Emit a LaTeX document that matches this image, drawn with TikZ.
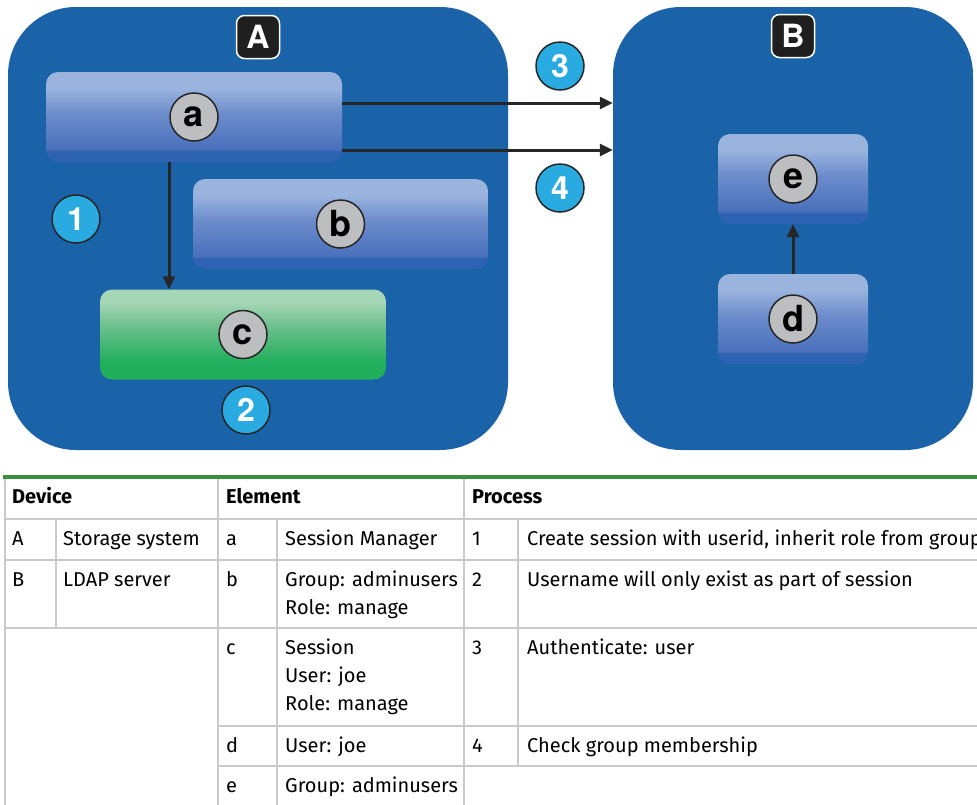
\documentclass[tikz,border=0pt]{standalone}
\usepackage{fontspec}
\setmainfont{Fira Sans}
\newfontfamily\heros{TeX Gyre Heros}
\usetikzlibrary{positioning,arrows.meta}

\definecolor{devblue}{RGB}{27,99,168}
\definecolor{elemtop}{RGB}{154,180,222}
\definecolor{elemmid}{RGB}{108,140,203}
\definecolor{elemlow}{RGB}{74,112,188}
\definecolor{elemband}{RGB}{46,98,178}
\definecolor{sesstop}{RGB}{165,214,181}
\definecolor{sessmid}{RGB}{110,192,142}
\definecolor{sessbot}{RGB}{34,175,92}
\definecolor{badgegray}{RGB}{189,190,192}
\definecolor{stepblue}{RGB}{41,171,226}
\definecolor{gridgray}{RGB}{201,202,203}
\definecolor{rulegreen}{RGB}{58,143,63}

\pgfdeclareverticalshading{elemshade}{100bp}{color(0bp)=(elemband); color(31bp)=(elemband); color(32bp)=(elemlow); color(52bp)=(elemmid); color(66bp)=(elemtop); color(100bp)=(elemtop)}
\pgfdeclareverticalshading{sessshade}{100bp}{color(0bp)=(sessbot); color(35bp)=(sessbot); color(55bp)=(sessmid); color(68bp)=(sesstop); color(100bp)=(sesstop)}

\tikzset{
  device/.style={fill=devblue, rounded corners=68pt, minimum height=443pt, inner sep=0},
  elem/.style={shading=elemshade, rounded corners=12pt, minimum height=90pt, inner sep=0},
  sess/.style={elem, shading=sessshade},
  badge/.style={circle, draw=black!85, line width=1.5pt, fill=badgegray, minimum size=48pt, inner sep=0, font=\heros\bfseries\fontsize{36}{36}\selectfont},
  stepno/.style={badge, fill=stepblue, text=white, font=\heros\bfseries\fontsize{32}{32}\selectfont},
  tag/.style={fill=black!88, draw=white, line width=1.5pt, rounded corners=8pt, minimum size=43pt, inner sep=0, text=white, font=\heros\bfseries\fontsize{32}{32}\selectfont},
  link/.style={line width=3pt, black!85, -{Triangle[length=13pt,width=12pt]}},
  grid/.style={line width=2.5pt, gridgray},
  cell/.style={anchor=base west, inner sep=0, font=\fontsize{20}{28}\selectfont},
  head/.style={cell, font=\bfseries\fontsize{20}{28}\selectfont}
}

\begin{document}
\begin{tikzpicture}[x=1pt, y=-1pt]
  \path[use as bounding box, clip] (0,0) rectangle (977,804);
  % devices
  \node[device, minimum width=500pt] (SysA) at (258,228.5) {};
  \node[device, minimum width=360pt] (SrvB) at (793,228.5) {};
  \node[tag] (TagA) at (258,37) {A};
  \node[tag] (TagB) at (793,36) {B};
  % elements
  \node[elem, minimum width=296pt] (Mgr) at (194,117) {};
  \node[elem, minimum width=295pt] (Grp) at (340.5,224) {};
  \node[sess, minimum width=286pt] (Sess) at (243,334.5) {};
  \node[elem, minimum width=150pt] (GrpB) at (793,179) {};
  \node[elem, minimum width=150pt] (Usr) at (793,319) {};
  \foreach \n/\t in {Mgr/a, Grp/b, Sess/c, GrpB/e, Usr/d}
    \node[badge] (\n-lbl) at (\n) {\t};
  % steps
  \node[stepno] (Step1) at (76,219) {1};
  \node[stepno] (Step2) at (246,410) {2};
  \node[stepno] (Step3) at (560,66) {3};
  \node[stepno] (Step4) at (560,188) {4};
  % connectors
  \draw[link] ([yshift=14pt]Mgr.east) -- ([yshift=14pt]Mgr.east -| SrvB.west);
  \draw[link] ([yshift=-33pt]Mgr.east) -- ([yshift=-33pt]Mgr.east -| SrvB.west);
  \draw[link] ([xshift=-25pt]Mgr.south) -- ([xshift=-25pt]Mgr.south |- Sess.north);
  \draw[link] (Usr.north) -- (GrpB.south);
  % table
  \draw[line width=4.5pt, rulegreen] (3,477) -- (980,477);
  \foreach \y/\xa in {519/5, 560/5, 628/5, 726/218, 766/218}
    \draw[grid] (\xa,\y) -- (980,\y);
  \foreach \x/\ya/\yb in {5/479/806, 56/519/628, 218/479/806, 277/519/806, 464/479/806, 518/519/766}
    \draw[grid] (\x,\ya) -- (\x,\yb);
  \node[head] (HDev) at (12,503) {Device};
  \node[head] (HElem) at (226,503) {Element};
  \node[head] (HProc) at (472,503) {Process};
  \foreach \x/\y/\t [count=\i] in {12/545/A, 63/545/Storage system, 226/545/a, 285/545/Session Manager,
      472/545/1, 527/545/{Create session with userid, inherit role from group},
      12/586/B, 63/586/LDAP server, 226/586/b, 285/586/Group: adminusers, 285/614/Role: manage,
      472/586/2, 527/586/Username will only exist as part of session,
      226/654/c, 285/654/Session, 285/682/User: joe, 285/710/Role: manage, 472/654/3, 527/654/Authenticate: user,
      226/752/d, 285/752/User: joe, 472/752/4, 527/752/Check group membership,
      226/792/e, 285/792/Group: adminusers}
    \node[cell] (cell\i) at (\x,\y) {\t};
\end{tikzpicture}
\end{document}
